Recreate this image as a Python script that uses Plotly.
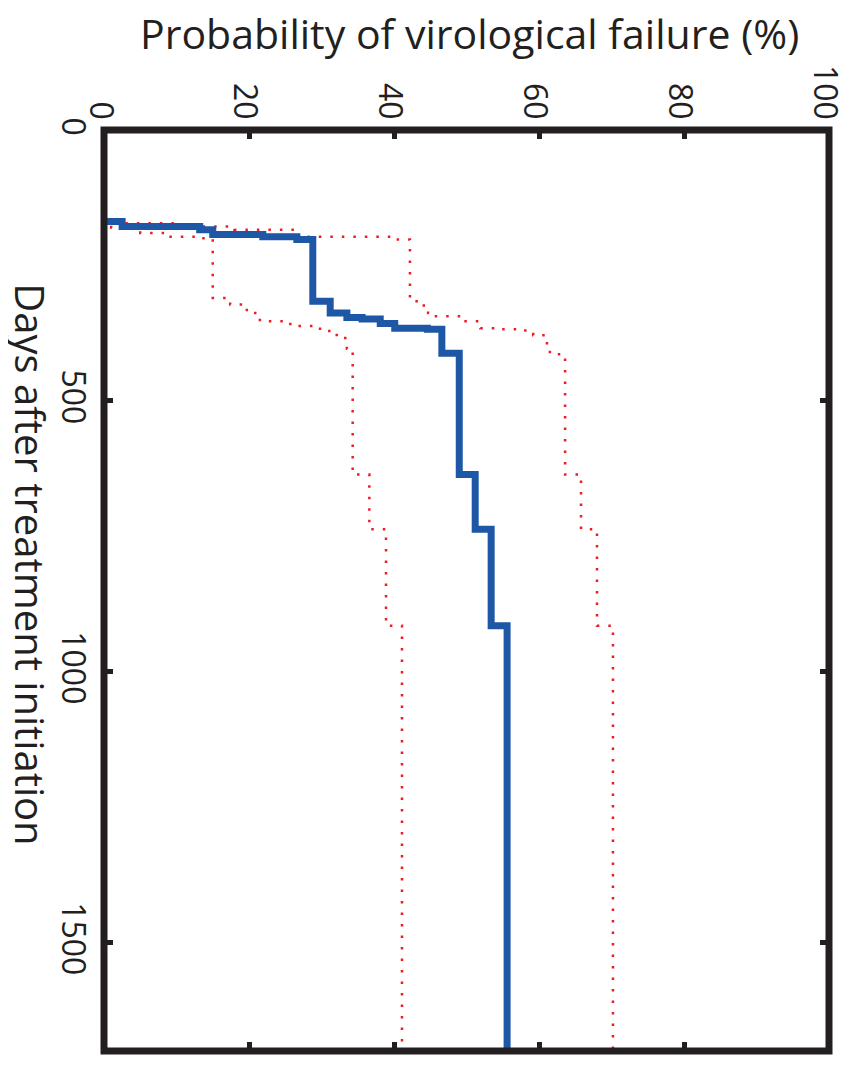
import plotly.graph_objects as go

# Kaplan-Meier estimate (blue) and confidence bounds (red dotted)
blue_days = [169, 169, 178, 184, 193, 197, 202, 316, 338, 346, 349, 357, 366, 368, 412, 636, 737, 915, 1700]
blue_prob = [0, 2.5, 13.2, 15, 21.9, 26.6, 28.8, 31.2, 33.5, 35.6, 38.1, 40.1, 44.6, 46.6, 49.0, 51.2, 53.4, 55.6, 55.6]

upper_days = [169, 172, 178, 184, 197, 202, 316, 324, 338, 344, 353, 366, 368, 370, 379, 399, 414, 636, 737, 915, 1700]
upper_prob = [0, 10, 18, 26.6, 39.9, 42.2, 43.6, 44.7, 45.4, 49.5, 51.9, 54.2, 57.4, 59.2, 61.1, 61.5, 63.6, 65.8, 68.0, 70.2, 70.2]

lower_days = [169, 172, 180, 190, 197, 200, 310, 322, 338, 353, 362, 371, 384, 404, 636, 737, 915, 1700]
lower_prob = [0, 1, 5, 9, 13, 15, 17.4, 19.7, 21.5, 25.7, 29.8, 32.1, 33.5, 34.3, 36.6, 38.9, 41.1, 41.1]

prob_ticks = [0, 20, 40, 60, 80, 100]
day_ticks = [0, 500, 1000, 1500]

RED = "#ed1c24"
BLUE = "#1f57a7"
BLACK = "#231f20"
FONT = "Open Sans"

# the page body has an 8px default margin, so the figure is sized/offset to compensate
OFF = 8
W, H = 850 - OFF, 1067 - OFF
ML, MR, MT, MB = 104 - OFF, 21, 129.5 - OFF, 16
plot_h = H - MT - MB
plot_w = W - ML - MR


def px_x(px):
    return (px - OFF - ML) / plot_w


def px_y(py):
    return 1 - (py - OFF - MT) / plot_h


fig = go.Figure()
for d, p in [(upper_days, upper_prob), (lower_days, lower_prob)]:
    fig.add_trace(go.Scatter(x=p, y=d, mode="lines", line_shape="vh",
                             line=dict(color=RED, width=2.5, dash="2.5px,9px"),
                             showlegend=False, hoverinfo="skip"))
fig.add_trace(go.Scatter(x=blue_prob, y=blue_days, mode="lines", line_shape="vh",
                         line=dict(color=BLUE, width=7),
                         showlegend=False, hoverinfo="skip"))

axis_common = dict(showgrid=False, zeroline=False, showline=False, automargin=False,
                   mirror="allticks", ticks="inside", ticklen=9,
                   tickwidth=5, tickcolor=BLACK, showticklabels=False)

annotations = [
    dict(text="Probability of virological failure (%)", showarrow=False,
         xref="paper", yref="paper", x=px_x(469), y=px_y(32),
         xanchor="center", yanchor="middle", borderpad=0,
         font=dict(family=FONT, size=41, color=BLACK)),
    dict(text="Days after treatment initiation", textangle=90, showarrow=False,
         xref="paper", yref="paper", x=px_x(31), y=px_y(564),
         xanchor="center", yanchor="middle", borderpad=0,
         font=dict(family=FONT, size=40, color=BLACK)),
]
# tick labels (rotated like the reference)
for v in prob_ticks:
    annotations.append(dict(text=str(v), textangle=90, showarrow=False,
                            xref="x", yref="paper", x=v, y=px_y(120),
                            xanchor="center", yanchor="bottom", xshift=-2, borderpad=0,
                            font=dict(family=FONT, size=32, color=BLACK)))
for v in day_ticks:
    annotations.append(dict(text=str(v), textangle=90, showarrow=False,
                            xref="paper", yref="y", x=px_x(74.5), y=v,
                            xanchor="center", yanchor="middle", yshift=4, borderpad=0,
                            font=dict(family=FONT, size=32, color=BLACK)))

fig.update_layout(
    width=W, height=H,
    paper_bgcolor="white", plot_bgcolor="white",
    margin=dict(l=ML, r=MR, t=MT, b=MB),
    xaxis=dict(range=[0, 100], side="top", tickvals=prob_ticks, **axis_common),
    yaxis=dict(range=[1700, 0], tickvals=day_ticks, **axis_common),
    shapes=[dict(type="rect", xref="paper", yref="paper", x0=0, x1=1, y0=0, y1=1,
                 line=dict(color=BLACK, width=7), fillcolor="rgba(0,0,0,0)", layer="above")],
    annotations=annotations,
)

fig.write_html("out.html")
